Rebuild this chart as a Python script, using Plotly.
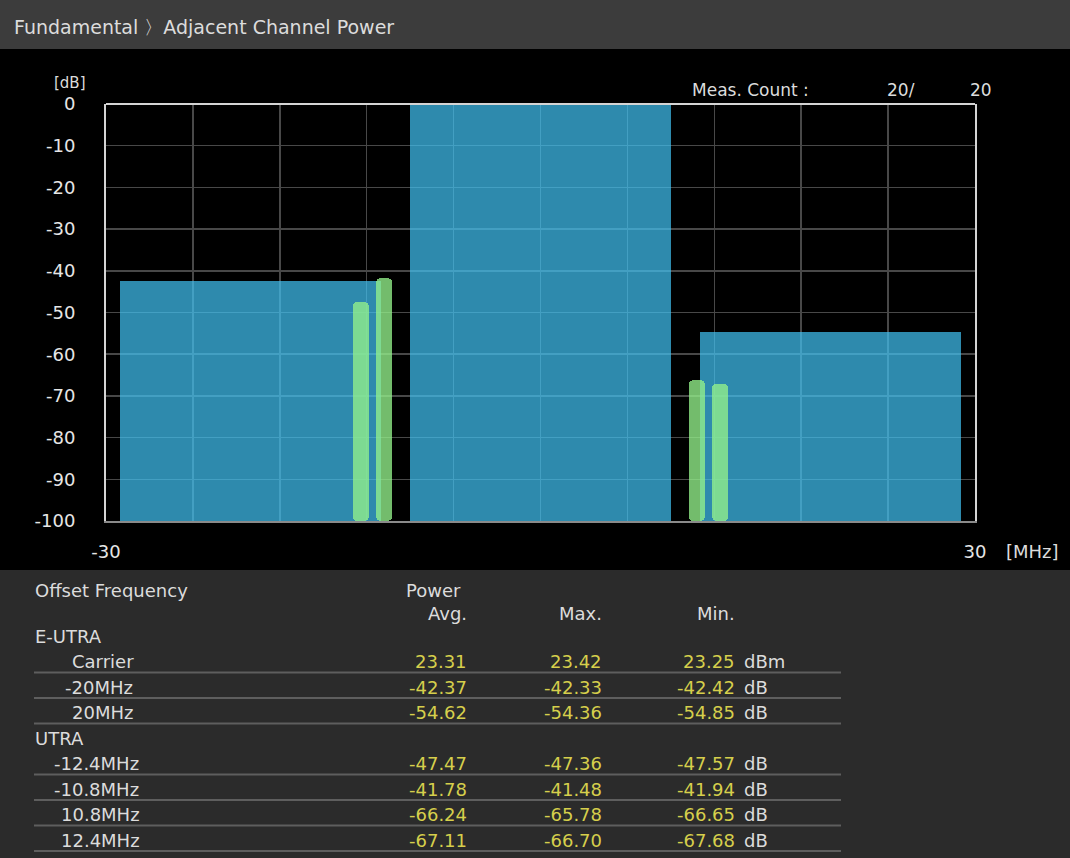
import plotly.graph_objects as go

# ---------------- data ----------------
# E-UTRA channel bars (offset MHz, bandwidth MHz, relative power dB)
eutra_offsets = [-20.0, 0.0, 20.0]
eutra_bandwidth = [18.0, 18.0, 18.0]
eutra_rel_power = [-42.37, 0.0, -54.62]

# UTRA channel bars
utra_offsets = [-12.4, -10.8, 10.8, 12.4]
utra_rel_power = [-47.47, -41.78, -66.24, -67.11]

y_tick_vals = [0, -10, -20, -30, -40, -50, -60, -70, -80, -90, -100]
x_tick_vals = [-30, -24, -18, -12, -6, 0, 6, 12, 18, 24, 30]
x_tick_text = ["-30", "", "", "", "", "", "", "", "", "", "30"]

meas_count = 20
meas_total = 20

# result table
eutra_labels = ["Carrier", "-20MHz", "20MHz"]
eutra_avg = [23.31, -42.37, -54.62]
eutra_max = [23.42, -42.33, -54.36]
eutra_min = [23.25, -42.42, -54.85]
eutra_units = ["dBm", "dB", "dB"]

utra_labels = ["-12.4MHz", "-10.8MHz", "10.8MHz", "12.4MHz"]
utra_avg = [-47.47, -41.78, -66.24, -67.11]
utra_max = [-47.36, -41.48, -65.78, -66.70]
utra_min = [-47.57, -41.94, -66.65, -67.68]
utra_units = ["dB", "dB", "dB", "dB"]

# ---------------- layout geometry ----------------
W, H = 1070, 858
L, R, T, B = 106, 95, 104, 337
PW = W - L - R
PH = H - T - B
Y_MIN, Y_MAX = -100, 0


def px(x):
    return (x - L) / PW


def py(y):
    return (H - B - y) / PH


FONT = "DejaVu Sans"
TXT = "#dcdcdc"
YEL = "#d6cf4c"
FS = 18

fig = go.Figure()

# E-UTRA bars
fig.add_trace(go.Bar(
    x=eutra_offsets,
    y=[v - Y_MIN for v in eutra_rel_power],
    base=Y_MIN,
    width=eutra_bandwidth,
    marker=dict(color="rgba(66,196,246,0.70)", line=dict(width=0)),
    hoverinfo="skip",
    showlegend=False,
))

# UTRA bars
fig.add_trace(go.Bar(
    x=utra_offsets,
    y=[v - Y_MIN for v in utra_rel_power],
    base=Y_MIN,
    width=1.15,
    marker=dict(color="rgba(147,241,138,0.78)", line=dict(width=0), cornerradius=5),
    hoverinfo="skip",
    showlegend=False,
))

shapes = [
    # title bar
    dict(type="rect", xref="paper", yref="paper", x0=px(0), x1=px(W), y0=py(49), y1=py(0),
         fillcolor="#3c3c3c", line=dict(width=0), layer="below"),
    # table background
    dict(type="rect", xref="paper", yref="paper", x0=px(0), x1=px(W), y0=py(H), y1=py(570),
         fillcolor="#2b2b2b", line=dict(width=0), layer="below"),
    # top frame line
    dict(type="line", xref="x domain", yref="y domain", x0=0, x1=1, y0=1, y1=1,
         line=dict(color="#d4d4d4", width=2), layer="above"),
]

annotations = []


def ann(text, x, y, size=FS, color=TXT, xanchor="left"):
    annotations.append(dict(text=text, x=px(x), y=py(y), xref="paper", yref="paper",
                            xanchor=xanchor, yanchor="middle", showarrow=False,
                            font=dict(family=FONT, size=size, color=color)))


ann("Fundamental \u3009Adjacent Channel Power", 12, 27, size=19)
ann("[dB]", 70, 83, size=15, xanchor="center")
ann("Meas. Count :", 690, 90, size=17)
ann(f"{meas_count}/", 917, 90, size=17, xanchor="right")
ann(f"{meas_total}", 994, 90, size=17, xanchor="right")
ann("[MHz]", 1004, 551, size=FS)

# table
COL_AVG, COL_MAX, COL_MIN, COL_UNIT = 469, 604, 737, 742
ann("Offset Frequency", 33, 590)
ann("Power", 404, 590)
ann("Avg.", COL_AVG, 613, xanchor="right")
ann("Max.", COL_MAX, 613, xanchor="right")
ann("Min.", COL_MIN, 613, xanchor="right")

ROW0, PITCH = 636, 25.5
groups = [
    ("E-UTRA", 63, eutra_labels, eutra_avg, eutra_max, eutra_min, eutra_units),
    ("UTRA", 52, utra_labels, utra_avg, utra_max, utra_min, utra_units),
]
row = 0
for gname, indent, labels, avgs, maxs, mins, units in groups:
    ann(gname, 33, ROW0 + row * PITCH)
    row += 1
    for lab, a, mx, mn, u in zip(labels, avgs, maxs, mins, units):
        yy = ROW0 + row * PITCH
        xoff = indent if lab.startswith("-") else indent + 7
        ann(lab, xoff, yy)
        ann(f"{a:.2f}", COL_AVG, yy, color=YEL, xanchor="right")
        ann(f"{mx:.2f}", COL_MAX, yy, color=YEL, xanchor="right")
        ann(f"{mn:.2f}", COL_MIN, yy, color=YEL, xanchor="right")
        ann(u, COL_UNIT, yy)
        shapes.append(dict(type="line", xref="paper", yref="paper",
                           x0=px(34), x1=px(841), y0=py(yy + 11), y1=py(yy + 11),
                           line=dict(color="#5e5e5e", width=2), layer="above"))
        row += 1

fig.update_layout(
    width=W, height=H,
    margin=dict(l=L, r=R, t=T, b=B, pad=0),
    paper_bgcolor="#000000",
    plot_bgcolor="#000000",
    barmode="overlay",
    bargap=0,
    showlegend=False,
    shapes=shapes,
    annotations=annotations,
    font=dict(family=FONT, color=TXT),
    xaxis=dict(
        range=[-30, 30], tickmode="array", tickvals=x_tick_vals, ticktext=x_tick_text,
        showgrid=True, gridcolor="#484848", gridwidth=1.5, zeroline=False,
        showline=True, linecolor="#8a8a8a", linewidth=2, mirror=False,
        ticks="", ticklabelstandoff=13,
        tickfont=dict(family=FONT, size=FS, color="#e6e6e6"),
        fixedrange=True,
    ),
    yaxis=dict(
        range=[Y_MIN, Y_MAX], tickmode="array", tickvals=y_tick_vals,
        ticktext=[str(v) for v in y_tick_vals],
        showgrid=True, gridcolor="#484848", gridwidth=1.5, zeroline=False,
        showline=True, linecolor="#d4d4d4", linewidth=2, mirror=True,
        ticks="", ticklabelstandoff=25,
        tickfont=dict(family=FONT, size=FS, color="#e6e6e6"),
        fixedrange=True,
    ),
)

fig.write_html("out.html", include_plotlyjs=True,
               config={"displayModeBar": False, "staticPlot": True},
               post_script="document.body.style.margin='0';")
